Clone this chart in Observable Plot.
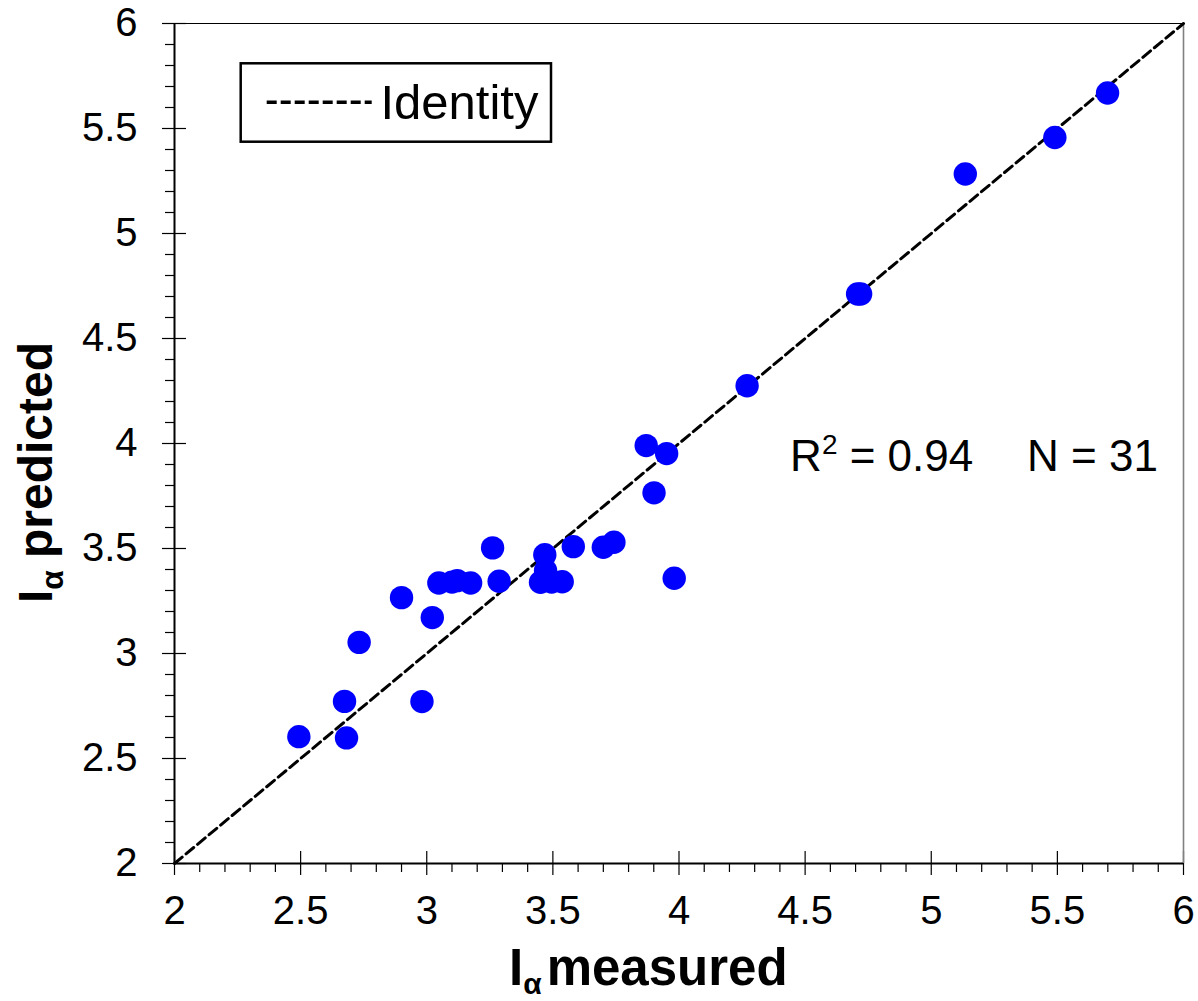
<!DOCTYPE html>
<html>
<head>
<meta charset="utf-8">
<script src="https://cdn.jsdelivr.net/npm/d3@7"></script>
<script src="https://cdn.jsdelivr.net/npm/@observablehq/plot@0.6"></script>
<style>
  body { margin: 0; background: #fff; }
  #chart svg { font-family: "Liberation Sans", Arial, sans-serif; display: block; }
</style>
</head>
<body>
<div id="chart"></div>
<script>
// ---- data ----
const measured  = [2.493, 2.674, 2.682, 2.732, 2.900, 2.981, 3.022, 3.048, 3.121, 3.174, 3.261, 3.287, 3.451, 3.468, 3.471, 3.537, 3.581, 3.700, 3.742, 3.870, 3.951, 3.901, 3.981, 4.270, 4.708, 4.720, 5.135, 5.490, 5.699, 3.495, 3.100];
const predicted = [2.604, 2.772, 2.598, 3.053, 3.266, 2.771, 3.171, 3.336, 3.347, 3.336, 3.503, 3.344, 3.339, 3.470, 3.395, 3.342, 3.509, 3.506, 3.530, 3.990, 3.952, 3.765, 3.358, 4.275, 4.712, 4.712, 5.283, 5.457, 5.669, 3.340, 3.340];
const majorTicks = [2, 2.5, 3, 3.5, 4, 4.5, 5, 5.5, 6];
const minorTicks = [2.1,2.2,2.3,2.4,2.6,2.7,2.8,2.9,3.1,3.2,3.3,3.4,3.6,3.7,3.8,3.9,4.1,4.2,4.3,4.4,4.6,4.7,4.8,4.9,5.1,5.2,5.3,5.4,5.6,5.7,5.8,5.9];
const identityX = [2, 6];
const identityY = [2, 6];
const rSquared = "0.94";
const nCount = "31";
const legendLabel = "Identity";

const points = measured.map((m, i) => ({m, p: predicted[i]}));
const identity = identityX.map((x, i) => ({x, y: identityY[i]}));

const chart = Plot.plot({
  width: 1198,
  height: 1001,
  marginLeft: 174,
  marginRight: 15,
  marginTop: 23,
  marginBottom: 138,
  x: {domain: [2, 6]},
  y: {domain: [2, 6]},
  style: {fontFamily: '"Liberation Sans", Arial, sans-serif', color: "black", background: "white"},
  marks: [
    // minor ticks (outside only)
    Plot.axisX({ticks: minorTicks, tickSize: 9, tickFormat: () => "", label: null, strokeWidth: 1.2}),
    Plot.axisY({ticks: minorTicks, tickSize: 9, tickFormat: () => "", label: null, strokeWidth: 1.2}),
    // major ticks outside + labels
    Plot.axisX({ticks: majorTicks, tickSize: 12, tickPadding: 20, tickFormat: d => String(d), label: null, fontSize: 40, strokeWidth: 1.2}),
    Plot.axisY({ticks: majorTicks, tickSize: 12, tickPadding: 25, tickFormat: d => String(d), label: null, fontSize: 40, strokeWidth: 1.2}),
    // major ticks inside (crossing)
    Plot.axisX({ticks: majorTicks, tickSize: 12, dy: -12, tickFormat: () => "", label: null, strokeWidth: 1.2}),
    Plot.axisY({ticks: majorTicks, tickSize: 12, dx: 12, tickFormat: () => "", label: null, strokeWidth: 1.2}),
    // frame
    Plot.ruleY([6], {stroke: "black", strokeWidth: 1}),
    Plot.ruleX([6], {stroke: "#808080", strokeWidth: 1.6}),
    Plot.ruleY([2], {stroke: "black", strokeWidth: 2}),
    Plot.ruleX([2], {stroke: "black", strokeWidth: 2}),
    // identity line
    Plot.line(identity, {x: "x", y: "y", stroke: "black", strokeWidth: 3, strokeDasharray: "10,5"}),
    // data points
    Plot.dot(points, {x: "m", y: "p", r: 11.7, fill: "#0000FF", stroke: "none"})
  ]
});

document.getElementById("chart").appendChild(chart);

const svg = d3.select(chart);
const sx = chart.scale("x"), sy = chart.scale("y");

// statistics annotation
const st = svg.append("g").attr("text-anchor", "start").attr("fill", "black").attr("font-size", 44);
const t1 = st.append("text").attr("x", sx.apply(4.4425)).attr("y", sy.apply(3.868));
t1.append("tspan").text("R");
t1.append("tspan").attr("font-size", 28).attr("dy", -16.5).text("2");
t1.append("tspan").attr("dy", 16.5).text(" = " + rSquared);
st.append("text").attr("x", sx.apply(5.382)).attr("y", sy.apply(3.868)).text("N = " + nCount);

// legend box
const lg = svg.append("g").attr("text-anchor", "start");
lg.append("rect").attr("x", 240.7).attr("y", 63.3).attr("width", 310.3).attr("height", 78.4)
  .attr("fill", "white").attr("stroke", "black").attr("stroke-width", 2.5);
lg.append("line").attr("x1", 266.7).attr("x2", 371.7).attr("y1", 102.3).attr("y2", 102.3)
  .attr("stroke", "black").attr("stroke-width", 3.5).attr("stroke-dasharray", "10,4");
lg.append("text").attr("x", 380.5).attr("y", 119).attr("font-size", 49).attr("fill", "black").text(legendLabel);

// x axis title
const xt = svg.append("text").attr("font-weight", "bold").attr("fill", "black").attr("text-anchor", "start")
  .attr("x", 509).attr("y", 985).attr("font-size", 51);
xt.append("tspan").text("I");
xt.append("tspan").attr("font-size", 30).attr("dy", 9).text("\u03b1");
xt.append("tspan").attr("dy", -9).attr("dx", 5).text("measured");

// y axis title (rotated)
const yt = svg.append("text").attr("font-weight", "bold").attr("fill", "black").attr("text-anchor", "start")
  .attr("transform", "translate(51.7,600) rotate(-90)").attr("x", -3).attr("y", 0).attr("font-size", 48);
yt.append("tspan").text("I");
yt.append("tspan").attr("font-size", 32).attr("dy", 11.5).text("\u03b1");
yt.append("tspan").attr("dy", -11.5).attr("dx", 12).text("predicted");
</script>
</body>
</html>
